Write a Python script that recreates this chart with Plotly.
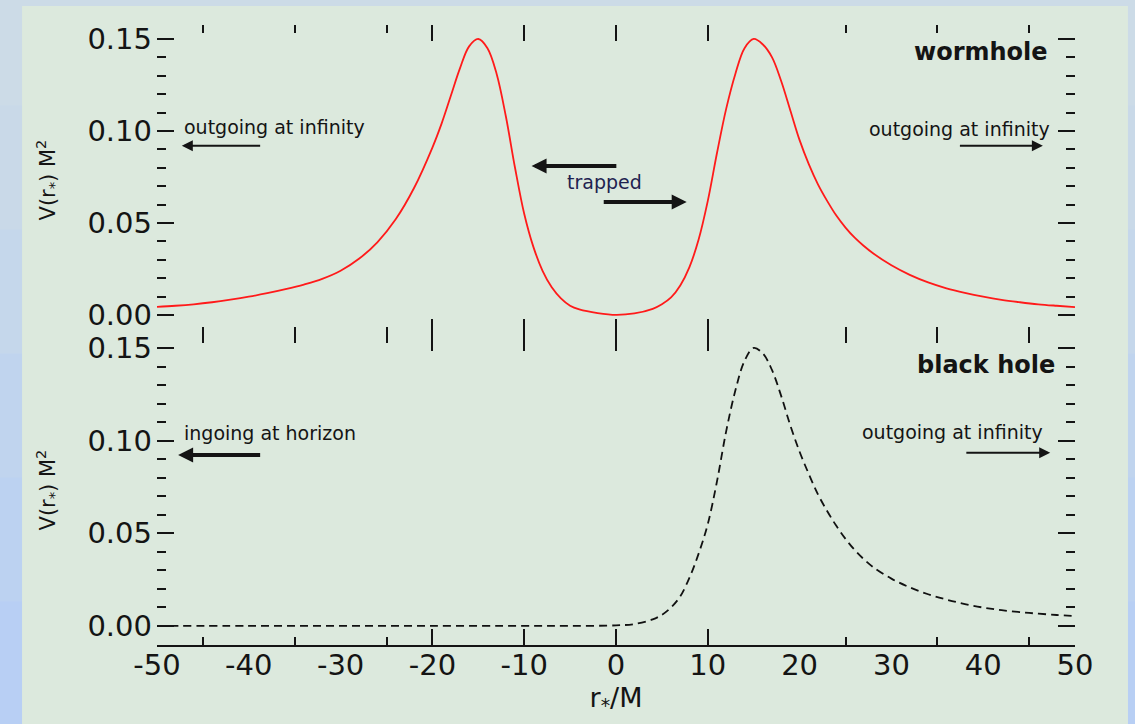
import plotly.graph_objects as go

# ---- data ----
r_worm = [-50, -48, -46, -44, -42, -40, -38, -36, -34, -32, -30, -28, -26, -24, -22, -20,
          -19, -18, -17, -16, -15, -14, -13, -12, -11, -10, -9, -8, -7, -6, -5, -4, -2, 0,
          2, 4, 5, 6, 7, 8, 9, 10, 11, 12, 13, 14, 15, 16, 17, 18, 19, 20, 21, 22, 23, 24,
          25, 26, 27, 28, 30, 32, 34, 36, 38, 40, 42, 44, 46, 48, 50]
v_worm = [0.0044, 0.0050, 0.0058, 0.0069, 0.0083, 0.0099, 0.0118, 0.0140, 0.0165, 0.0196,
          0.0240, 0.0305, 0.0395, 0.052, 0.069, 0.091, 0.104, 0.119, 0.134, 0.146, 0.150,
          0.145, 0.131, 0.108, 0.080, 0.055, 0.037, 0.024, 0.015, 0.009, 0.005, 0.003,
          0.001, 0.0, 0.0008, 0.0033, 0.0058, 0.0095, 0.016, 0.026, 0.041, 0.062, 0.088,
          0.112, 0.131, 0.145, 0.150, 0.147, 0.140, 0.127, 0.111, 0.095, 0.082, 0.071,
          0.062, 0.054, 0.0475, 0.042, 0.0375, 0.0335, 0.0270, 0.0218, 0.0177, 0.0145,
          0.0120, 0.0099, 0.0082, 0.0069, 0.0058, 0.0050, 0.0043]

r_bh = [-50, -40, -30, -20, -10, -5, 0, 2, 4, 5, 6, 7, 8, 9, 10, 11, 12, 13, 14, 15, 16,
        17, 18, 19, 20, 21, 22, 23, 24, 25, 26, 27, 28, 30, 32, 34, 36, 38, 40, 42, 45,
        48, 50]
v_bh = [0, 0, 0, 0, 0, 0, 0.0003, 0.001, 0.0035, 0.006, 0.010, 0.016, 0.026, 0.039,
        0.055, 0.078, 0.105, 0.127, 0.143, 0.150, 0.147, 0.138, 0.124, 0.108, 0.094,
        0.082, 0.071, 0.062, 0.054, 0.047, 0.041, 0.036, 0.0318, 0.0255, 0.0208, 0.0171,
        0.0142, 0.0118, 0.0099, 0.0085, 0.0070, 0.0059, 0.0053]

x_labels = [-50, -40, -30, -20, -10, 0, 10, 20, 30, 40, 50]
x_label_text = ["-50", "-40", "-30", "-20", "-10", "0", "10", "20", "30", "40", "50"]
x_long_ticks = [-20, -10, 0, 10]
x_short_ticks = [-45, -35, -25, 25, 35, 45]
y_major = [0.0, 0.05, 0.10, 0.15]
y_major_text = ["0.00", "0.05", "0.10", "0.15"]
y_minor = [0.01, 0.02, 0.03, 0.04, 0.06, 0.07, 0.08, 0.09, 0.11, 0.12, 0.13, 0.14]

FONT = "DejaVu Sans"
INK = "#141414"
PANEL = "#dce9dd"

fig = go.Figure()
fig.add_trace(go.Scatter(x=r_worm, y=v_worm, xaxis="x2", yaxis="y2", mode="lines",
                         line=dict(color="#ff1a1a", width=1.8, shape="spline", smoothing=1.0),
                         showlegend=False, hoverinfo="skip"))
fig.add_trace(go.Scatter(x=r_bh, y=v_bh, xaxis="x", yaxis="y", mode="lines",
                         line=dict(color="#111111", width=1.8, dash="8px,5px",
                                   shape="spline", smoothing=1.0),
                         showlegend=False, hoverinfo="skip"))
# same data bound to the label axis (draws nothing, keeps that axis rendered)
fig.add_trace(go.Scatter(x=r_bh, y=v_bh, xaxis="x3", yaxis="y", mode="none",
                         showlegend=False, hoverinfo="skip"))

xcommon = dict(range=[-50, 50], showgrid=False, zeroline=False, showline=False,
               tickmode="array", tickvals=x_long_ticks, ticks="inside", ticklen=16,
               tickwidth=2, tickcolor=INK, mirror="ticks", showticklabels=False,
               minor=dict(tickmode="array", tickvals=x_short_ticks, ticks="inside",
                          ticklen=8, tickwidth=2, tickcolor=INK))
ycommon = dict(showgrid=False, zeroline=False, showline=False, tickmode="array",
               tickvals=y_major, ticktext=y_major_text, ticks="inside", ticklen=17,
               tickwidth=2, tickcolor=INK, mirror="ticks", ticklabelstandoff=4,
               tickfont=dict(family=FONT, size=29, color=INK),
               minor=dict(tickmode="array", tickvals=y_minor, ticks="inside", ticklen=9,
                          tickwidth=2, tickcolor=INK),
               title=dict(text="V(r<sub>*</sub>) M<sup>2</sup>",
                          font=dict(family=FONT, size=21, color=INK), standoff=26))

# decorative slide background: panel plus a soft blue gradient border
bg_shapes = [dict(type="rect", xref="paper", yref="paper", x0=-0.2, x1=1.1,
                  y0=-0.13 + i * 0.2, y1=-0.13 + (i + 1) * 0.2 + 0.01,
                  fillcolor=c, line=dict(width=0), layer="below")
             for i, c in enumerate(["#b8cff4", "#bcd2f1", "#c0d4ee", "#c5d7eb",
                                    "#c9d9e8", "#ccdbe7"])]
bg_shapes.append(dict(type="rect", xref="paper", yref="paper", x0=-0.147, x1=1.0577,
                      y0=-0.13, y1=1.0306, fillcolor=PANEL, line=dict(width=0),
                      layer="below"))

fig.update_layout(
    width=1135, height=724,
    margin=dict(l=157, r=60, t=25, b=79),
    paper_bgcolor="#c4d6ec", plot_bgcolor=PANEL,
    xaxis=dict(domain=[0, 1], anchor="y", **xcommon),
    xaxis2=dict(domain=[0, 1], anchor="y2", **xcommon),
    xaxis3=dict(overlaying="x", anchor="y", side="bottom", range=[-50, 50],
                showgrid=False, zeroline=False, showline=True, linecolor=INK, linewidth=2,
                tickmode="array", tickvals=x_labels, ticktext=x_label_text, ticks="",
                ticklabelstandoff=-7,
                tickfont=dict(family=FONT, size=29, color=INK),
                title=dict(text="r<sub>*</sub>/M", font=dict(family=FONT, size=27, color=INK),
                           standoff=0)),
    yaxis=dict(domain=[0, 0.5], anchor="x", range=[-0.0103, 0.1570], **ycommon),
    yaxis2=dict(domain=[0.5, 1], anchor="x2", range=[-0.0109, 0.1576], **ycommon),
    shapes=bg_shapes,
)

def label(text, x, y, xref, yref, xanchor, size=19, bold=False, color=INK):
    fig.add_annotation(text=f"<b>{text}</b>" if bold else text, x=x, y=y, xref=xref,
                       yref=yref, xanchor=xanchor, yanchor="middle", showarrow=False,
                       font=dict(family=FONT, size=size, color=color))

def arrow(x_tip, x_tail, y, xref, yref, width):
    fig.add_annotation(text="", x=x_tip, y=y, ax=x_tail, ay=y, xref=xref, yref=yref,
                       axref=xref, ayref=yref, showarrow=True, arrowhead=2,
                       arrowsize=1.1 if width < 3 else 0.75, arrowwidth=width,
                       arrowcolor=INK, standoff=0, startstandoff=0)

# top panel (wormhole)
label("wormhole", 47.3, 0.143, "x2", "y2", "right", size=24, bold=True)
label("outgoing at infinity", -47.3, 0.102, "x2", "y2", "left")
arrow(-47.3, -38.6, 0.092, "x2", "y2", 2)
label("outgoing at infinity", 47.5, 0.101, "x2", "y2", "right")
arrow(46.5, 37.3, 0.092, "x2", "y2", 2)
label("trapped", -1.2, 0.072, "x2", "y2", "center", color="#1e2250")
arrow(-9.2, 0.2, 0.081, "x2", "y2", 4)
arrow(7.7, -1.5, 0.0614, "x2", "y2", 4)

# bottom panel (black hole)
label("black hole", 48.0, 0.141, "x", "y", "right", size=24, bold=True)
label("ingoing at horizon", -47.3, 0.104, "x", "y", "left")
arrow(-47.7, -38.6, 0.0923, "x", "y", 4)
label("outgoing at infinity", 46.7, 0.1047, "x", "y", "right")
arrow(47.3, 38.0, 0.0934, "x", "y", 2)

fig.write_html("out.html", config={"displayModeBar": False},
               post_script="document.body.style.margin='0px';"
                           "document.body.style.overflow='hidden';")
